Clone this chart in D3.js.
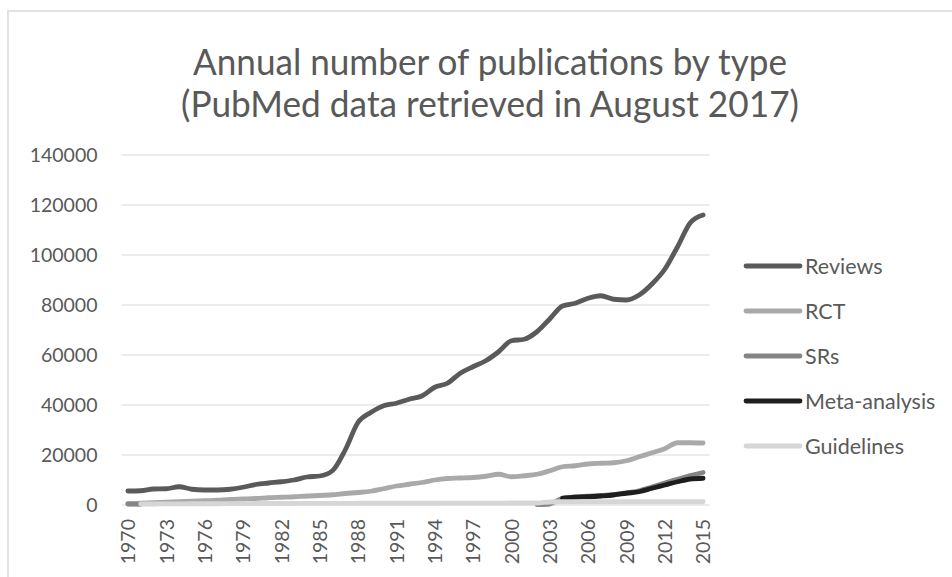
<!DOCTYPE html>
<html>
<head>
<meta charset="utf-8">
<script src="https://cdn.jsdelivr.net/npm/d3@7"></script>
<style>
  html, body { margin: 0; padding: 0; background: #ffffff; }
  svg { display: block; }
  text { font-family: Lato, "Open Sans", sans-serif; }
</style>
</head>
<body>
<svg id="chart" width="952" height="577"></svg>
<script>
const years = d3.range(1970, 2016);
const xTickLabels = [1970,1973,1976,1979,1982,1985,1988,1991,1994,1997,2000,2003,2006,2009,2012,2015];
const yTickLabels = [0,20000,40000,60000,80000,100000,120000,140000];
const seriesNames = ["Reviews","RCT","SRs","Meta-analysis","Guidelines"];

const reviews = [5600,5700,6400,6500,7300,6300,6000,6000,6300,7100,
  8200,8800,9300,10000,11200,11600,13700,22000,33000,37000,
  39700,40700,42300,43600,47100,48700,52700,55300,57700,61300,
  65700,66300,69300,74400,79600,80700,82700,83700,82300,82000,
  84000,88400,94300,103300,112900,116000];
const rct = [500,700,900,1100,1300,1500,1700,1900,2200,2400,
  2600,2900,3100,3300,3600,3800,4100,4600,5000,5500,
  6500,7600,8300,9000,10000,10600,10800,11000,11500,12300,
  11300,11700,12300,13700,15300,15700,16400,16700,16900,17700,
  19300,20900,22500,24900,24900,24800];
const srs = [400,300,null,null,null,null,null,null,null,null,
  null,null,null,null,null,null,null,null,null,null,
  null,null,null,null,null,null,null,null,null,null,
  null,null,200,400,2700,3200,3500,3800,4200,4900,
  5700,7200,8800,10300,11800,13000];
const meta = [null,null,null,null,null,null,null,null,null,null,
  null,null,null,null,null,null,null,null,null,null,
  null,null,null,null,null,null,null,null,null,null,
  null,null,null,null,2700,3100,3300,3600,4000,4700,
  5300,6700,8000,9300,10400,10700];
const guidelines = [null,400,400,450,450,500,500,500,550,550,
  600,600,600,600,650,650,650,650,700,700,
  700,700,700,700,700,750,750,750,750,750,
  800,800,800,1200,1300,1300,1300,1300,1300,1300,
  1300,1300,1300,1300,1300,1300];

const seriesValues = [reviews, rct, srs, meta, guidelines];
const seriesColors = ["#5a5a5a","#a9a9a9","#858585","#1e1e1e","#d6d6d6"];

const svg = d3.select("#chart");
const textColor = "#595959";

// outer frame
svg.append("rect").attr("x", 8).attr("y", 11).attr("width", 960).attr("height", 600)
  .attr("fill", "none").attr("stroke", "#d9d9d9").attr("stroke-width", 1.5);

const x = d3.scalePoint().domain(years).range([121.5, 709.5]).padding(0.5);
const y = d3.scaleLinear().domain([0, 140000]).range([505, 155]);

// gridlines
svg.append("g").selectAll("line").data(yTickLabels).join("line")
  .attr("x1", 121.5).attr("x2", 709.5)
  .attr("y1", d => y(d)).attr("y2", d => y(d))
  .attr("stroke", "#d9d9d9").attr("stroke-width", 1.2);

// y axis
const yAxis = svg.append("g").attr("transform", "translate(121.5,0)")
  .call(d3.axisLeft(y).tickValues(yTickLabels).tickFormat(d3.format("d")).tickSize(0).tickPadding(24));
yAxis.select(".domain").remove();
yAxis.selectAll("text").attr("fill", textColor).style("font-size", "19.5px")
  .style("font-family", "Lato, 'Open Sans', sans-serif");

// x axis
const xAxis = svg.append("g").attr("transform", "translate(0,505)")
  .call(d3.axisBottom(x).tickValues(xTickLabels).tickFormat(d3.format("d")).tickSize(0));
xAxis.select(".domain").remove();
xAxis.selectAll("text")
  .attr("transform", "rotate(-90)")
  .attr("x", -14).attr("y", 0).attr("dy", "0.35em")
  .style("text-anchor", "end")
  .attr("fill", textColor).style("font-size", "19.5px")
  .style("font-family", "Lato, 'Open Sans', sans-serif");

// lines
const line = d3.line()
  .defined(d => d != null)
  .x((d, i) => x(years[i]))
  .y(d => y(d))
  .curve(d3.curveMonotoneX);

seriesValues.forEach((vals, k) => {
  svg.append("path").datum(vals)
    .attr("d", line)
    .attr("fill", "none")
    .attr("stroke", seriesColors[k])
    .attr("stroke-width", 4.8)
    .attr("stroke-linejoin", "round")
    .attr("stroke-linecap", "round");
});

// legend
const legendY = [266, 311, 356, 401, 446];
const lg = svg.append("g");
seriesNames.forEach((name, k) => {
  lg.append("line").attr("x1", 746).attr("x2", 800)
    .attr("y1", legendY[k]).attr("y2", legendY[k])
    .attr("stroke", seriesColors[k]).attr("stroke-width", 4.8).attr("stroke-linecap", "round");
  lg.append("text").attr("x", 805).attr("y", legendY[k]).attr("dy", "0.35em")
    .attr("fill", textColor).style("font-size", "21.5px").text(name);
});

// title
const titleLines = ["Annual number of publications by type", "(PubMed data retrieved in August 2017)"];
const titleWidths = [594, 618];
const titleBase = [75, 117];
titleLines.forEach((t, i) => {
  const el = svg.append("text").attr("x", 490).attr("y", titleBase[i])
    .attr("text-anchor", "middle").attr("fill", textColor)
    .style("font-size", "37px").style("font-weight", "400").text(t);
  el.attr("textLength", titleWidths[i]).attr("lengthAdjust", "spacingAndGlyphs");
});
</script>
</body>
</html>
